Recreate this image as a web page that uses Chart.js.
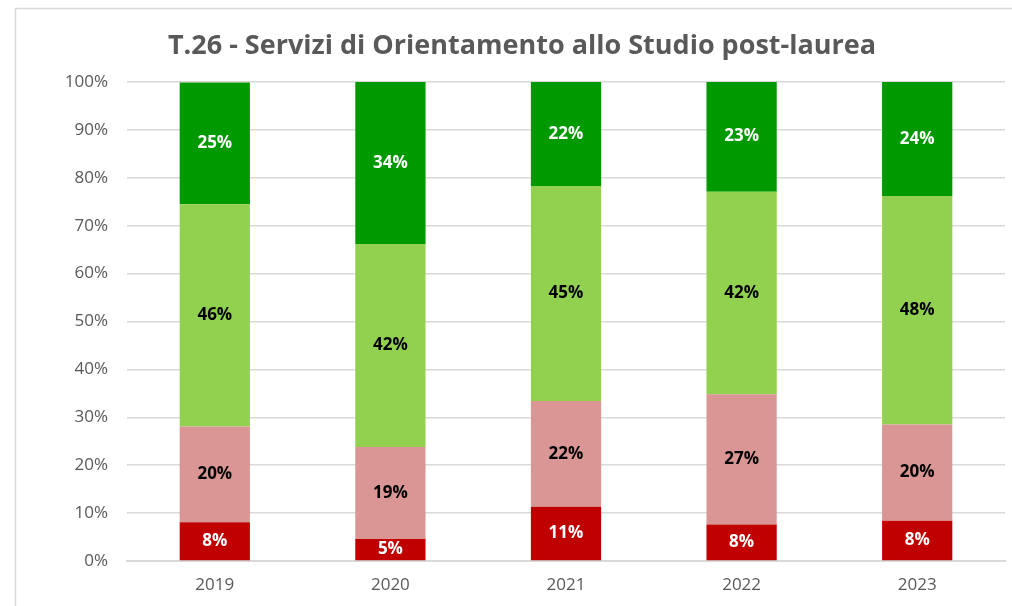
<!DOCTYPE html>
<html>
<head>
<meta charset="utf-8">
<script src="https://cdn.jsdelivr.net/npm/chart.js@4"></script>
<style>
  html, body { margin: 0; padding: 0; background: #fff; }
  #wrap { position: relative; width: 1012px; height: 606px; }
</style>
</head>
<body>
<div id="wrap"><canvas id="chart" width="1012" height="606"></canvas></div>
<script>
// Chart data (percent shares per year)
const years = ['2019', '2020', '2021', '2022', '2023'];
const veryNegative = [8.1, 4.6, 11.3, 7.6, 8.4];
const negative = [20.0, 19.2, 22.1, 27.2, 20.1];
const positive = [46.4, 42.4, 44.9, 42.3, 47.7];
const veryPositive = [25.4, 33.8, 21.7, 23.0, 23.8];
const yTicks = [0, 10, 20, 30, 40, 50, 60, 70, 80, 90, 100];
const titleText = 'T.26 - Servizi di Orientamento allo Studio post-laurea';

const FONT = "'Open Sans', sans-serif";

// frame lines like the Excel chart border + title
const framePlugin = {
    id: 'frame',
    beforeDraw(chart) {
        const ctx = chart.ctx;
        ctx.save();
        ctx.strokeStyle = '#d9d9d9';
        ctx.lineWidth = 1.5;
        ctx.beginPath();
        ctx.moveTo(15.5, 606);
        ctx.lineTo(15.5, 8.5);
        ctx.lineTo(1012, 8.5);
        ctx.stroke();

        ctx.fillStyle = '#595959';
        ctx.font = "bold 27px " + FONT;
        ctx.textAlign = 'center';
        ctx.textBaseline = 'middle';
        ctx.fillText(titleText, 522, 46);
        ctx.restore();
    }
};

// value labels centred in each segment
const labelPlugin = {
    id: 'segLabels',
    afterDatasetsDraw(chart) {
        const ctx = chart.ctx;
        ctx.save();
        ctx.font = "bold 17px " + FONT;
        ctx.textAlign = 'center';
        ctx.textBaseline = 'middle';
        chart.data.datasets.forEach((ds, i) => {
            const meta = chart.getDatasetMeta(i);
            meta.data.forEach((bar, j) => {
                const v = ds.data[j];
                const y = (bar.y + bar.base) / 2;
                ctx.fillStyle = ds.labelColor;
                ctx.fillText(Math.round(v) + '%', bar.x, y);
            });
        });
        ctx.restore();
    }
};

new Chart(document.getElementById('chart'), {
    type: 'bar',
    data: {
        labels: years,
        datasets: [
            { label: 'Molto negativo', data: veryNegative, backgroundColor: '#c00000', labelColor: '#ffffff' },
            { label: 'Negativo', data: negative, backgroundColor: '#da9694', labelColor: '#000000' },
            { label: 'Positivo', data: positive, backgroundColor: '#92d050', labelColor: '#000000' },
            { label: 'Molto positivo', data: veryPositive, backgroundColor: '#009900', labelColor: '#ffffff' }
        ]
    },
    options: {
        responsive: false,
        animation: false,
        layout: { padding: { left: 0, right: 7, top: 82, bottom: 0 } },
        datasets: {
            bar: { barPercentage: 0.4, categoryPercentage: 1, borderWidth: 0 }
        },
        plugins: {
            legend: { display: false },
            tooltip: { enabled: false },
            title: { display: false }
        },
        scales: {
            x: {
                stacked: true,
                grid: { display: false, drawTicks: false },
                border: { color: '#d9d9d9', width: 2 },
                ticks: { color: '#595959', font: { family: FONT, size: 17 }, padding: 14 },
                afterFit(scale) { scale.height = 45; }
            },
            y: {
                stacked: true,
                min: 0,
                max: 100,
                afterBuildTicks(scale) { scale.ticks = yTicks.map(v => ({ value: v })); },
                grid: { color: '#d9d9d9', lineWidth: 1.5, drawTicks: false },
                border: { display: false },
                ticks: {
                    color: '#595959',
                    font: { family: FONT, size: 17 },
                    padding: 19,
                    callback: v => v + '%'
                },
                afterFit(scale) { scale.width = 127; }
            }
        }
    },
    plugins: [framePlugin, labelPlugin]
});
</script>
</body>
</html>
